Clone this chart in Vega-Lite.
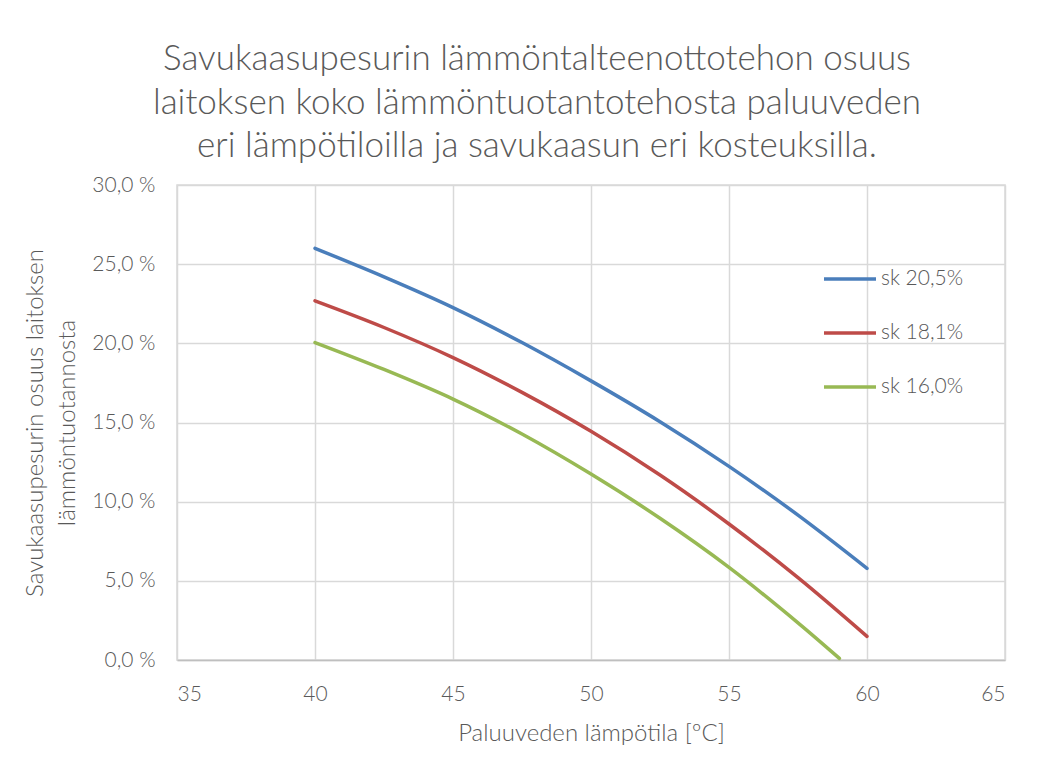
{
  "$schema": "https://vega.github.io/schema/vega-lite/v6.json",
  "width": 828,
  "height": 475,
  "autosize": {"type": "none"},
  "padding": {"left": 177, "top": 185, "right": 51, "bottom": 105},
  "background": "white",
  "title": {
    "text": ["Savukaasupesurin lämmöntalteenottotehon osuus", "laitoksen koko lämmöntuotantotehosta paluuveden", "eri lämpötiloilla ja savukaasun eri kosteuksilla."],
    "font": "Lato",
    "fontSize": 35,
    "fontWeight": 300,
    "color": "#595959",
    "lineHeight": 43.5,
    "anchor": "middle",
    "dx": -54,
    "offset": 10
  },
  "data": {
    "values": [
      {"t": 40, "v": 26.0, "s": "sk 20,5%"},
      {"t": 42.5, "v": 24.2, "s": "sk 20,5%"},
      {"t": 45, "v": 22.26, "s": "sk 20,5%"},
      {"t": 47.5, "v": 20.05, "s": "sk 20,5%"},
      {"t": 50, "v": 17.63, "s": "sk 20,5%"},
      {"t": 52.5, "v": 15.05, "s": "sk 20,5%"},
      {"t": 55, "v": 12.23, "s": "sk 20,5%"},
      {"t": 57.5, "v": 9.15, "s": "sk 20,5%"},
      {"t": 60, "v": 5.79, "s": "sk 20,5%"},
      {"t": 40, "v": 22.68, "s": "sk 18,1%"},
      {"t": 42.5, "v": 21.0, "s": "sk 18,1%"},
      {"t": 45, "v": 19.1, "s": "sk 18,1%"},
      {"t": 47.5, "v": 16.9, "s": "sk 18,1%"},
      {"t": 50, "v": 14.44, "s": "sk 18,1%"},
      {"t": 52.5, "v": 11.68, "s": "sk 18,1%"},
      {"t": 55, "v": 8.59, "s": "sk 18,1%"},
      {"t": 57.5, "v": 5.2, "s": "sk 18,1%"},
      {"t": 60, "v": 1.49, "s": "sk 18,1%"},
      {"t": 40, "v": 20.05, "s": "sk 16,0%"},
      {"t": 42.5, "v": 18.35, "s": "sk 16,0%"},
      {"t": 45, "v": 16.48, "s": "sk 16,0%"},
      {"t": 47.5, "v": 14.27, "s": "sk 16,0%"},
      {"t": 50, "v": 11.74, "s": "sk 16,0%"},
      {"t": 52.5, "v": 8.95, "s": "sk 16,0%"},
      {"t": 55, "v": 5.85, "s": "sk 16,0%"},
      {"t": 57.5, "v": 2.35, "s": "sk 16,0%"},
      {"t": 59, "v": 0.1, "s": "sk 16,0%"}
    ]
  },
  "mark": {"type": "line", "strokeWidth": 3.5, "interpolate": "catmull-rom", "strokeCap": "round"},
  "encoding": {
    "x": {
      "field": "t", "type": "quantitative",
      "scale": {"domain": [35, 65], "nice": false, "zero": false},
      "axis": {
        "values": [35, 40, 45, 50, 55, 60, 65],
        "title": "Paluuveden lämpötila [ºC]",
        "titleFont": "Lato", "titleFontSize": 24, "titleFontWeight": 300, "titleColor": "#595959",
        "titlePadding": 17,
        "labelFont": "Lato", "labelFontSize": 21, "labelFontWeight": 300, "labelColor": "#595959",
        "labelPadding": 23,
        "ticks": false,
        "domainColor": "#bfbfbf", "domainWidth": 1.5,
        "grid": true, "gridColor": "#d9d9d9", "gridWidth": 1.5
      }
    },
    "y": {
      "field": "v", "type": "quantitative",
      "scale": {"domain": [0, 30], "nice": false},
      "axis": {
        "values": [0, 5, 10, 15, 20, 25, 30],
        "labelExpr": "replace(format(datum.value, '.1f'), '.', ',') + ' %'",
        "title": ["Savukaasupesurin osuus laitoksen", "lämmöntuotannosta"],
        "titleFont": "Lato", "titleFontSize": 24, "titleFontWeight": 300, "titleColor": "#595959",
        "titleLineHeight": 32,
        "titlePadding": 12,
        "labelFont": "Lato", "labelFontSize": 21, "labelFontWeight": 300, "labelColor": "#595959",
        "labelPadding": 22,
        "ticks": false,
        "domain": false,
        "grid": true, "gridColor": "#d9d9d9", "gridWidth": 1.5
      }
    },
    "color": {
      "field": "s", "type": "nominal",
      "scale": {"domain": ["sk 20,5%", "sk 18,1%", "sk 16,0%"], "range": ["#4a7ebb", "#be4b48", "#98b954"]},
      "legend": {
        "title": null,
        "orient": "none",
        "legendX": 645,
        "legendY": 66,
        "symbolType": "stroke",
        "symbolSize": 2704,
        "symbolStrokeWidth": 3.5,
        "labelFont": "Lato", "labelFontSize": 21, "labelFontWeight": 300, "labelColor": "#595959",
        "labelOffset": 3,
        "rowPadding": 16
      }
    }
  },
  "config": {
    "view": {"stroke": "#d9d9d9", "strokeWidth": 1.5}
  }
}
